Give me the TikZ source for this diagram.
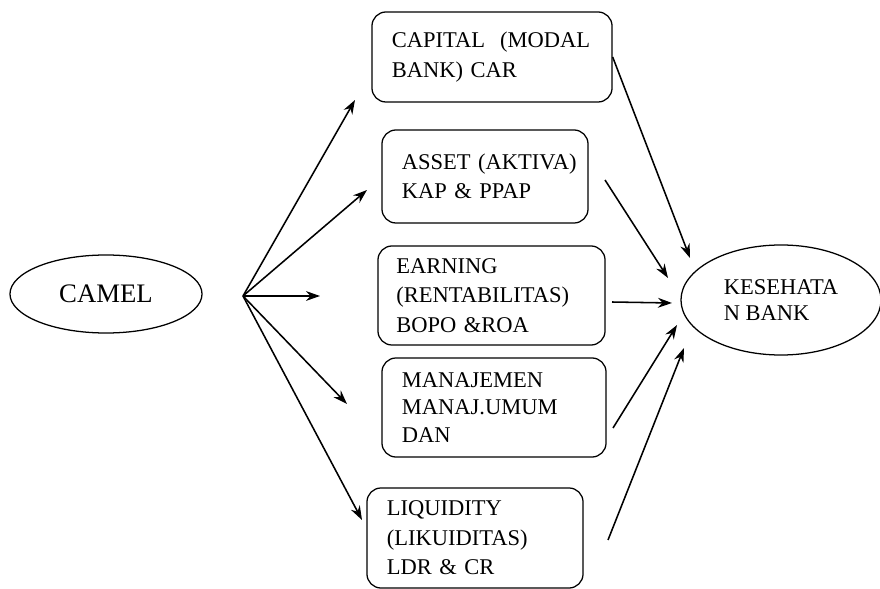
\documentclass[tikz,border=0pt]{standalone}
\usepackage{fontspec}
\setmainfont{Liberation Serif}
\usepackage{tikz}
\usetikzlibrary{arrows,arrows.meta,shapes,positioning}
\hyphenpenalty=10000
\exhyphenpenalty=10000
\tikzstyle{arrow} = [line width=1.1pt,->,>={Stealth[length=10pt,width=7pt]}]
\tikzstyle{factor} = [rectangle, rounded corners=0.35cm, draw, line width=0.9pt, align=left, inner sep=0pt, font=\fontsize{16}{21}\selectfont]
\tikzstyle{oval} = [ellipse, draw, line width=0.9pt, font=\fontsize{16}{21}\selectfont]

\begin{document}
\begin{tikzpicture}[x=0.025cm, y=-0.025cm]
    \useasboundingbox (0,0) rectangle (880,589);

    % CAMEL
    \node[oval, minimum width=4.8cm, minimum height=1.95cm, font=\fontsize{19}{21}\selectfont] (camel) at (106,294) {CAMEL};

    % Kesehatan bank
    \node[oval, minimum width=5cm, minimum height=2.75cm, align=left, font=\fontsize{16}{19}\selectfont] (sehat) at (781,300) {KESEHATA\\N BANK};

    % Faktor
    \node[factor, minimum width=6cm, minimum height=2.25cm, text width=5cm] (capital) at (492,57) {CAPITAL~~(MODAL\\BANK) CAR};
    \node[factor, minimum width=5.15cm, minimum height=2.325cm, text width=4.15cm] (asset) at (485,176.5) {ASSET~(AKTIVA)\\KAP \& PPAP};
    \node[factor, minimum width=5.675cm, minimum height=2.475cm, text width=4.75cm] (earning) at (491.5,295.5) {EARNING\\(RENTABILITAS)\\BOPO \&ROA};
    \node[factor, minimum width=5.6cm, minimum height=2.475cm, text width=4.6cm, font=\fontsize{16}{19.5}\selectfont] (manajemen) at (494,407.5) {MANAJEMEN\\MANAJ.UMUM\\DAN};
    \node[factor, minimum width=5.4cm, minimum height=2.5cm, text width=4.4cm] (liquidity) at (475,538) {LIQUIDITY\\(LIKUIDITAS)\\LDR \& CR};

    % Titik cabang
    \coordinate (fan) at (243,296);
    \coordinate (toC) at (355,100);
    \coordinate (toA) at (367,190);
    \coordinate (toE) at (320,296);
    \coordinate (toM) at (347,404);
    \coordinate (toL) at (362,520);

    \coordinate (fromA) at (605,180);
    \coordinate (fromE) at (612,302);
    \coordinate (fromM) at (613,428);
    \coordinate (fromL) at (608,540);
    \coordinate (inC) at (690,258);
    \coordinate (inA) at (668,278);
    \coordinate (inE) at (672,303);
    \coordinate (inM) at (677,325);
    \coordinate (inL) at (684,348);

    % Arrows
    \draw[arrow] (fan) -- (toC);
    \draw[arrow] (fan) -- (toA);
    \draw[arrow] (fan) -- (toE);
    \draw[arrow] (fan) -- (toM);
    \draw[arrow] (fan) -- (toL);

    \draw[arrow] (capital.east) -- (inC);
    \draw[arrow] (fromA) -- (inA);
    \draw[arrow] (fromE) -- (inE);
    \draw[arrow] (fromM) -- (inM);
    \draw[arrow] (fromL) -- (inL);
\end{tikzpicture}
\end{document}
